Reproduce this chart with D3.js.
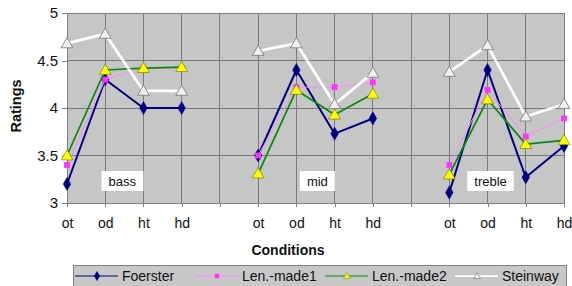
<!DOCTYPE html>
<html><head><meta charset="utf-8">
<script src="https://cdn.jsdelivr.net/npm/d3@7"></script>
<style>body{margin:0;background:#fff;} svg{display:block;font-family:"Liberation Sans",Arial,sans-serif;}</style>
</head><body>
<svg id="c" width="572" height="286"></svg>
<script>
const groups = ["bass","mid","treble"];
const conditions = ["ot","od","ht","hd"];
const yTicks = [3, 3.5, 4, 4.5, 5];
const seriesNames = ["Foerster","Len.-made1","Len.-made2","Steinway"];
const foerster = [3.2,4.3,4.0,4.0, 3.5,4.4,3.73,3.89, 3.11,4.4,3.27,3.6];
const lenMade1 = [3.4,4.3,4.42,4.42, 3.5,4.22,4.22,4.27, 3.4,4.19,3.7,3.89];
const lenMade2 = [3.5,4.4,4.42,4.43, 3.31,4.19,3.93,4.15, 3.3,4.09,3.62,3.66];
const steinway = [4.68,4.78,4.18,4.18, 4.6,4.68,4.04,4.37, 4.38,4.66,3.91,4.04];

const svg = d3.select("#c");
const L=67, R=564, T=13, B=203;

const domain = [];
groups.forEach((g,gi)=>{
  conditions.forEach(c=>domain.push(g+"|"+c));
  if(gi<groups.length-1) domain.push("gap"+gi);
});
const x = d3.scalePoint().domain(domain).range([L,R]).padding(0);
const y = d3.scaleLinear().domain([3,5]).range([B,T]);

svg.append("rect").attr("x",L).attr("y",T).attr("width",R-L).attr("height",B-T).attr("fill","#c6c6c6");

svg.append("g").selectAll("line").data(yTicks.slice(1)).join("line")
  .attr("x1",L).attr("x2",R).attr("y1",d=>y(d)).attr("y2",d=>y(d))
  .attr("stroke","#7a7a7a").attr("stroke-width",1).attr("shape-rendering","crispEdges");
svg.append("g").selectAll("line").data(domain.slice(1)).join("line")
  .attr("x1",d=>x(d)).attr("x2",d=>x(d)).attr("y1",T).attr("y2",B)
  .attr("stroke","#7a7a7a").attr("stroke-width",1).attr("shape-rendering","crispEdges");

const yAxis = svg.append("g").attr("transform",`translate(${L},0)`)
  .call(d3.axisLeft(y).tickValues(yTicks).tickSize(5).tickPadding(4).tickFormat(d=>String(d)));
const xAxis = svg.append("g").attr("transform",`translate(0,${B})`)
  .call(d3.axisBottom(x).tickSize(4).tickPadding(11).tickFormat(d=>d.startsWith("gap")?"":d.split("|")[1]));
[yAxis,xAxis].forEach(a=>{
  a.select(".domain").attr("stroke","#808080").attr("shape-rendering","crispEdges");
  a.selectAll(".tick line").attr("stroke","#808080").attr("shape-rendering","crispEdges");
  a.selectAll("text").attr("fill","#111").attr("font-family","Liberation Sans, Arial, sans-serif");
});
yAxis.selectAll("text").attr("font-size",15);
xAxis.selectAll("text").attr("font-size",14);

svg.append("text").attr("transform","translate(21,106) rotate(-90)").attr("text-anchor","middle")
  .attr("font-size",14.5).attr("font-weight","bold").attr("fill","#111").text("Ratings");
svg.append("text").attr("x",288).attr("y",255).attr("text-anchor","middle")
  .attr("font-size",14).attr("font-weight","bold").attr("fill","#111").text("Conditions");

const labelPos = [{k:"bass|od",dx:17},{k:"mid|od",dx:21},{k:"treble|od",dx:3}];
groups.forEach((g,i)=>{
  const cx = x(labelPos[i].k)+labelPos[i].dx, cy = 181;
  const t = svg.append("text").attr("x",cx).attr("y",cy+4.5).attr("text-anchor","middle")
    .attr("font-size",13).attr("fill","#111").text(g);
  const bb = t.node().getBBox();
  svg.insert("rect", () => t.node()).attr("x",bb.x-7).attr("y",cy-10).attr("width",bb.width+14).attr("height",20).attr("fill","#fff");
});

const symDiamond = d3.symbol().type(d3.symbolDiamond).size(50);
const symSquare = d3.symbol().type(d3.symbolSquare).size(34);
const symTri = d3.symbol().type(d3.symbolTriangle).size(60);
const legDiamond = d3.symbol().type(d3.symbolDiamond).size(26);
const legSquare = d3.symbol().type(d3.symbolSquare).size(18);
const legTri = d3.symbol().type(d3.symbolTriangle).size(20);

const series = [
  {name:seriesNames[0], vals:foerster, color:"#000080", width:2, sym:symDiamond, lsym:legDiamond, tri:false, fill:"#000080", stroke:"#000080", sw:0.5},
  {name:seriesNames[1], vals:lenMade1, color:"#ff88ff", width:1, sym:symSquare, lsym:legSquare, tri:false, fill:"#ff33ff", stroke:"#ff33ff", sw:0},
  {name:seriesNames[2], vals:lenMade2, color:"#0a8a0a", width:1.75, sym:symTri, lsym:legTri, tri:true, fill:"#ffff00", stroke:"#6f6f00", sw:0.6},
  {name:seriesNames[3], vals:steinway, color:"#ffffff", width:2.75, sym:symTri, lsym:legTri, tri:true, fill:"#f0f0f0", stroke:"#808080", sw:0.9}
];

const line = d3.line().x(d=>x(d.k)).y(d=>y(d.v));
series.forEach(s=>{
  const g = svg.append("g");
  groups.forEach((gr,gi)=>{
    const pts = conditions.map((c,ci)=>({k:gr+"|"+c, v:s.vals[gi*4+ci]}));
    g.append("path").datum(pts).attr("d",line).attr("fill","none")
      .attr("stroke",s.color).attr("stroke-width",s.width).attr("stroke-linejoin","round");
    g.selectAll(null).data(pts).join("path")
      .attr("transform",d=>`translate(${x(d.k)},${y(d.v)+(s.tri?1:0)})`)
      .attr("d",s.sym).attr("fill",s.fill).attr("stroke",s.stroke).attr("stroke-width",s.sw);
  });
});

const lg = svg.append("g");
lg.append("rect").attr("x",73.5).attr("y",265.5).attr("width",493).attr("height",26)
  .attr("fill","#c8c8c8").attr("stroke","#808080").attr("stroke-width",1);
const legendX = [75, 195, 325, 455];
series.forEach((s,i)=>{
  const x0 = legendX[i], ly = 276;
  lg.append("line").attr("x1",x0).attr("x2",x0+43).attr("y1",ly).attr("y2",ly)
    .attr("stroke",s.color).attr("stroke-width",i===3?1.75:1.1);
  lg.append("path").attr("transform",`translate(${x0+22},${ly+(s.tri?0.5:0)})`).attr("d",s.lsym)
    .attr("fill",s.fill).attr("stroke",s.stroke).attr("stroke-width",s.sw*0.8);
  lg.append("text").attr("x",x0+47).attr("y",ly+5).attr("font-size",14).attr("fill","#111").text(s.name);
});
</script>
</body></html>
